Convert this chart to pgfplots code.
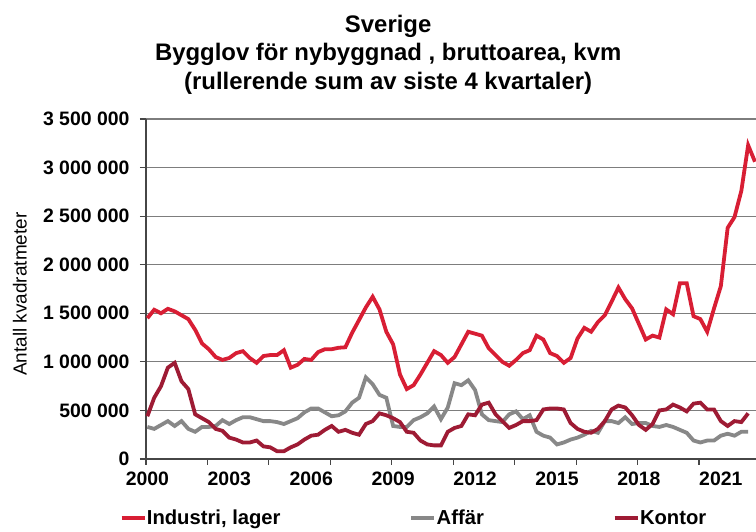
\documentclass[border=0pt]{standalone}
\usepackage{pgfplots}
\pgfplotsset{compat=1.18}
\usepackage{pgfplotstable}
\usepackage{fontspec}
\setmainfont{Liberation Sans}

\definecolor{indred}{RGB}{216,30,52}
\definecolor{affgray}{RGB}{136,136,136}
\definecolor{kontred}{RGB}{158,27,52}
\definecolor{gridcol}{RGB}{125,125,125}
\definecolor{axcol}{RGB}{70,70,70}

\pgfplotstableread{
i ind aff kon
0 1450000 330000 440000
1 1536000 310000 630000
2 1500000 350000 750000
3 1546000 390000 940000
4 1520000 340000 990000
5 1480000 390000 800000
6 1440000 310000 720000
7 1330000 280000 460000
8 1190000 330000 420000
9 1130000 330000 380000
10 1050000 340000 310000
11 1020000 400000 290000
12 1040000 360000 220000
13 1090000 400000 200000
14 1110000 430000 170000
15 1040000 430000 170000
16 990000 410000 190000
17 1060000 390000 130000
18 1070000 390000 120000
19 1070000 380000 80000
20 1120000 360000 80000
21 940000 390000 120000
22 970000 420000 150000
23 1030000 480000 200000
24 1020000 520000 240000
25 1100000 520000 250000
26 1130000 480000 300000
27 1130000 440000 340000
28 1145000 450000 280000
29 1150000 490000 300000
30 1300000 580000 270000
31 1430000 630000 250000
32 1560000 840000 360000
33 1670000 770000 390000
34 1540000 660000 470000
35 1310000 630000 450000
36 1180000 340000 420000
37 870000 330000 380000
38 720000 330000 280000
39 760000 400000 270000
40 870000 430000 190000
41 990000 470000 150000
42 1110000 540000 140000
43 1070000 410000 140000
44 990000 530000 280000
45 1050000 780000 320000
46 1180000 760000 340000
47 1310000 810000 460000
48 1290000 710000 450000
49 1270000 460000 560000
50 1140000 400000 580000
51 1070000 390000 460000
52 1000000 380000 390000
53 960000 460000 320000
54 1020000 490000 350000
55 1090000 410000 390000
56 1120000 450000 390000
57 1270000 280000 400000
58 1230000 240000 510000
59 1090000 220000 520000
60 1060000 150000 520000
61 990000 170000 510000
62 1040000 200000 370000
63 1240000 220000 310000
64 1350000 250000 280000
65 1310000 290000 270000
66 1410000 270000 310000
67 1480000 390000 390000
68 1620000 390000 510000
69 1765000 370000 550000
70 1645000 430000 530000
71 1550000 360000 450000
72 1390000 370000 350000
73 1230000 370000 300000
74 1270000 340000 360000
75 1250000 330000 500000
76 1540000 350000 510000
77 1490000 330000 560000
78 1810000 300000 530000
79 1810000 270000 490000
80 1470000 190000 570000
81 1440000 170000 580000
82 1310000 190000 510000
83 1550000 190000 510000
84 1780000 240000 390000
85 2380000 260000 340000
86 2490000 240000 390000
87 2760000 280000 380000
88 3230000 280000 470000
89 3060000 nan nan
}\datatable

\begin{document}
\begin{tikzpicture}
\useasboundingbox (-146bp,-73bp) rectangle (610bp,459bp);
\begin{axis}[
  at={(0bp,0bp)}, anchor=south west,
  scale only axis, width=610bp, height=340bp,
  xmin=-0.2, xmax=89.15, ymin=0, ymax=3500000,
  scaled y ticks=false,
  axis x line*=bottom, axis y line*=left,
  axis line style={axcol, line width=1.3bp},
  clip=false,
  xtick={0,12,24,36,48,60,72,84},
  xticklabels={2000,2003,2006,2009,2012,2015,2018,2021},
  xtick style={draw=none},
  extra x ticks={-0.2,8.8,17.8,26.8,35.8,44.8,53.8,62.8,71.8,80.8},
  extra x tick labels={},
  extra x tick style={grid=none, xtick style={draw=axcol, line width=1.2bp}},
  ytick={0,500000,1000000,1500000,2000000,2500000,3000000,3500000},
  yticklabels={0,{500 000},{1 000 000},{1 500 000},{2 000 000},{2 500 000},{3 000 000},{3 500 000}},
  ytick style={draw=axcol, line width=1.2bp},
  tick align=outside, major tick length=6bp,
  ymajorgrids, grid style={gridcol, line width=1.2bp},
  ticklabel style={font=\bfseries\fontsize{19.5}{22}\selectfont},
  yticklabel style={xshift=-7bp},
  xticklabel style={yshift=-3bp},
  legend columns=3,
  legend style={draw=none, fill=none, inner sep=0pt, outer sep=0pt,
    at={(axis description cs:-0.0433,-0.1735)}, anchor=west,
    font=\bfseries\fontsize{20.3}{22}\selectfont,
    nodes={inner sep=0.3bp},
    /tikz/every even column/.append style={column sep=128.5bp}},
  legend image code/.code={\draw[#1, line width=4bp] (0bp,0bp) -- (23bp,0bp);},
]
\addplot[indred, line width=3.8bp] table[x=i, y=ind] {\datatable};
\addlegendentry{Industri, lager}
\addplot[affgray, line width=3.8bp] table[x=i, y=aff] {\datatable};
\addlegendentry{Affär}
\addplot[kontred, line width=3.8bp] table[x=i, y=kon] {\datatable};
\addlegendentry{Kontor}
\node[anchor=base, align=center, inner sep=0pt,
  font=\bfseries\fontsize{24}{28.3}\selectfont]
  at (axis description cs:0.397,1.088)
  {Sverige\\Bygglov för nybyggnad , bruttoarea, kvm\\(rullerende sum av siste 4 kvartaler)};
\node[rotate=90, anchor=center, inner sep=0pt,
  font=\fontsize{19}{22}\selectfont]
  at (axis description cs:-0.2066,0.485) {Antall kvadratmeter};
\end{axis}
\end{tikzpicture}
\end{document}
